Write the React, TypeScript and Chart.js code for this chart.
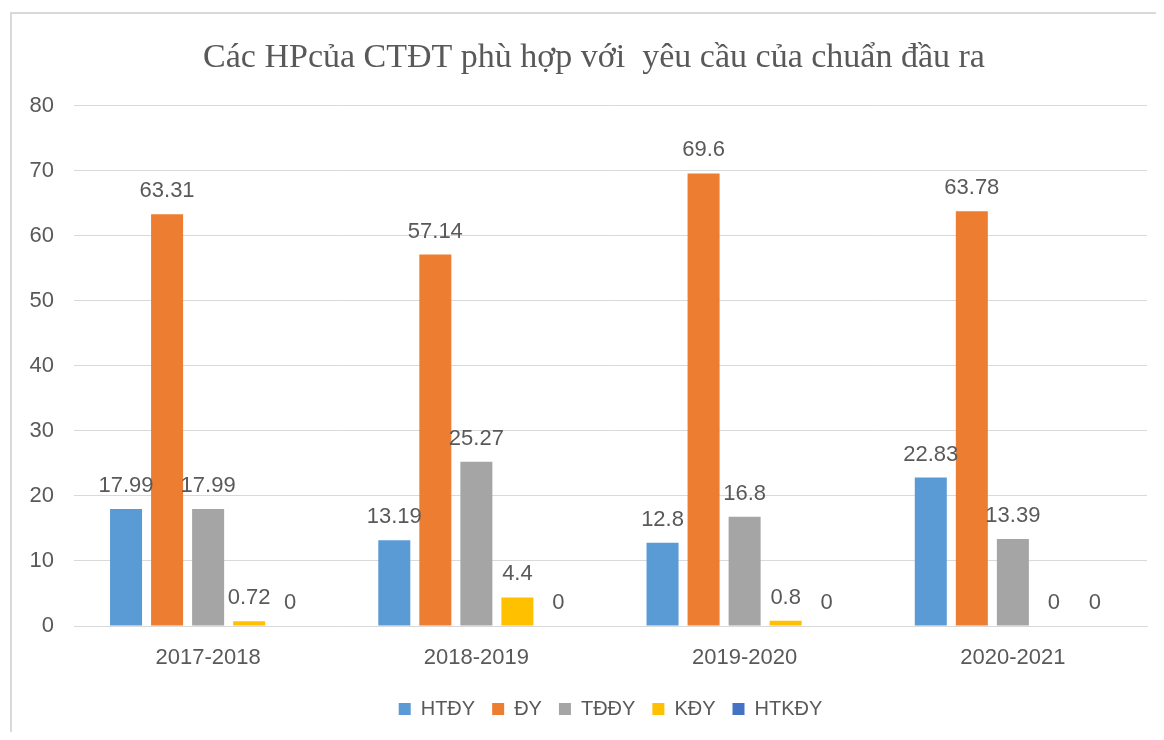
import React, { useEffect, useRef } from "react";
import { Chart, registerables } from "chart.js";

Chart.register(...registerables);

const categories = ["2017-2018", "2018-2019", "2019-2020", "2020-2021"];
const seriesNames = ["HTĐY", "ĐY", "TĐĐY", "KĐY", "HTKĐY"];
const htdy = [17.99, 13.19, 12.8, 22.83];
const dy = [63.31, 57.14, 69.6, 63.78];
const tddy = [17.99, 25.27, 16.8, 13.39];
const kdy = [0.72, 4.4, 0.8, 0];
const htkdy = [0, 0, 0, 0];
const seriesColors = ["#5B9BD5", "#ED7D31", "#A5A5A5", "#FFC000", "#4472C4"];
const titleText = "Các HPcủa CTĐT phù hợp với  yêu cầu của chuẩn đầu ra";

const SANS = "'Liberation Sans', Arial, sans-serif";
const TEXT = "#595959";

const valueLabels = {
  id: "valueLabels",
  afterDatasetsDraw(chart: any) {
    const ctx = chart.ctx;
    ctx.save();
    ctx.font = `22px ${SANS}`;
    ctx.fillStyle = TEXT;
    ctx.textAlign = "center";
    ctx.textBaseline = "bottom";
    chart.data.datasets.forEach((ds: any, i: number) => {
      const meta = chart.getDatasetMeta(i);
      meta.data.forEach((el: any, j: number) => {
        ctx.fillText(String(ds.data[j]), el.x, el.y - 12);
      });
    });
    ctx.restore();
  },
};

const shiftTitle = {
  id: "shiftTitle",
  afterLayout(chart: any) {
    const t = chart.titleBlock;
    if (t) {
      t.left += 33;
      t.width = t.right - t.left;
    }
  },
};

export default function App() {
  const ref = useRef<HTMLCanvasElement>(null);
  useEffect(() => {
    if (!ref.current) return;
    const all = [htdy, dy, tddy, kdy, htkdy];
    const chart = new Chart(ref.current, {
      type: "bar",
      data: {
        labels: categories,
        datasets: all.map((d, i) => ({
          label: seriesNames[i],
          data: d,
          backgroundColor: seriesColors[i],
          borderWidth: 0,
          categoryPercentage: 0.765,
          barPercentage: 0.78,
        })),
      },
      options: {
        animation: false,
        responsive: false,
        maintainAspectRatio: false,
        layout: { padding: { top: 12, right: 9, left: 0, bottom: 3 } },
        plugins: {
          title: {
            display: true,
            text: titleText,
            color: TEXT,
            font: { family: "'Liberation Serif', 'Times New Roman', serif", size: 34, weight: "normal" },
            padding: { top: 18, bottom: 27 },
          },
          legend: {
            position: "bottom",
            fullSize: false,
            labels: {
              boxWidth: 12,
              boxHeight: 12,
              color: TEXT,
              font: { family: SANS, size: 20 },
              padding: 17,
            },
          },
          tooltip: { enabled: false },
        },
        scales: {
          x: {
            grid: { display: false, drawTicks: false },
            border: { display: true, color: "#D9D9D9", width: 1 },
            ticks: { color: TEXT, font: { family: SANS, size: 22 }, padding: 19 },
            afterFit: (s: any) => {
              s.height = 56;
            },
          },
          y: {
            min: 0,
            max: 80,
            grid: { color: "#D9D9D9", drawTicks: false },
            border: { display: false },
            ticks: { stepSize: 10, color: TEXT, font: { family: SANS, size: 22 }, padding: 20 },
            afterFit: (s: any) => {
              s.width = 66;
            },
          },
        },
      },
      plugins: [valueLabels, shiftTitle],
    });
    return () => chart.destroy();
  }, []);
  return (
    <div style={{ position: "relative", width: 1148, height: 724, overflow: "hidden", background: "#fff" }}>
      <div
        style={{
          position: "absolute",
          left: 2,
          top: 4,
          width: 1200,
          height: 800,
          borderLeft: "2px solid #D9D9D9",
          borderTop: "2px solid #D9D9D9",
        }}
      />
      <canvas ref={ref} width={1148} height={724} style={{ position: "absolute", left: 0, top: 0 }} />
    </div>
  );
}
